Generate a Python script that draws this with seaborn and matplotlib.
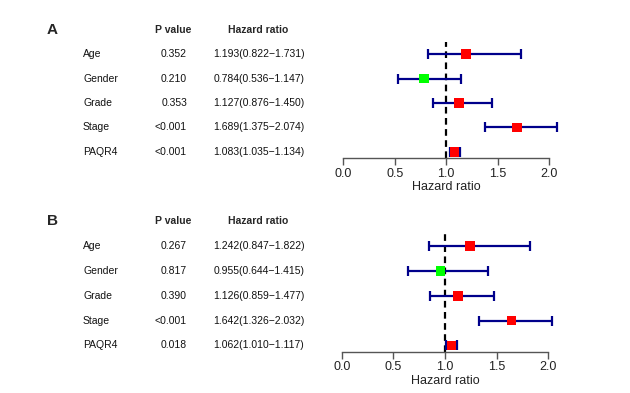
import numpy as np
import pandas as pd
import matplotlib
matplotlib.use("Agg")
import matplotlib.pyplot as plt
import matplotlib.transforms as mtransforms
import seaborn as sns

# ---- data ----
variables = ["Age", "Gender", "Grade", "Stage", "PAQR4"]

pval_A = ["0.352", "0.210", "0.353", "<0.001", "<0.001"]
hr_A = [1.193, 0.784, 1.127, 1.689, 1.083]
lo_A = [0.822, 0.536, 0.876, 1.375, 1.035]
hi_A = [1.731, 1.147, 1.450, 2.074, 1.134]

pval_B = ["0.267", "0.817", "0.390", "<0.001", "0.018"]
hr_B = [1.242, 0.955, 1.126, 1.642, 1.062]
lo_B = [0.847, 0.644, 0.859, 1.326, 1.010]
hi_B = [1.822, 1.415, 1.477, 2.032, 1.117]

xticks = [0.0, 0.5, 1.0, 1.5, 2.0]
xtick_labels = ["0.0", "0.5", "1.0", "1.5", "2.0"]

sns.set_style("white")
plt.rcParams["font.family"] = ["Liberation Sans", "DejaVu Sans"]

W, H = 630, 393
fig = plt.figure(figsize=(W / 100, H / 100), dpi=100)

BLUE = "#00008B"
palette = {"up": "#FF0000", "down": "#00FF00"}


def px_axes(left, top, width, height):
    return fig.add_axes([left / W, (H - top - height) / H, width / W, height / H])


def panel(ax, letter, pvals, hr, lo, hi):
    df = pd.DataFrame({
        "var": variables, "p": pvals, "hr": hr, "lo": lo, "hi": hi,
        "row": np.arange(len(variables)),
    })
    df["dir"] = np.where(df["hr"] < 1, "down", "up")

    ax.set_xlim(0, 2)
    ax.set_ylim(4.25, -0.5)

    ax.axvline(1.0, color="black", lw=1.6, ls=(0, (3, 2)), zorder=2)

    eb = ax.errorbar(df["hr"], df["row"],
                     xerr=[df["hr"] - df["lo"], df["hi"] - df["hr"]],
                     fmt="none", ecolor=BLUE, elinewidth=1.6, capsize=3.6,
                     capthick=1.6, zorder=3)
    for art in eb.lines[1] + eb.lines[2]:
        art.set_clip_on(False)
    for art in eb.lines[2]:
        art.set_clip_on(False)

    sns.scatterplot(data=df, x="hr", y="row", hue="dir", palette=palette,
                    marker="s", s=48, linewidth=0, legend=False, ax=ax,
                    zorder=4, clip_on=False)

    for s in ["top", "right", "left"]:
        ax.spines[s].set_visible(False)
    ax.spines["bottom"].set_color("#555555")
    ax.spines["bottom"].set_linewidth(1.0)
    ax.set_yticks([])
    ax.set_xticks(xticks)
    ax.set_xticklabels(xtick_labels, fontsize=9, color="#222222")
    ax.tick_params(axis="x", direction="out", length=5, width=1.0,
                   color="#555555", pad=2, bottom=True)
    ax.set_xlabel("Hazard ratio", fontsize=9, color="#222222", labelpad=1)
    ax.set_ylabel("")

    tr = mtransforms.blended_transform_factory(fig.transFigure, ax.transData)
    fs = 7.5
    ax.text(47 / W, -1.0, letter, transform=tr, fontsize=11, fontweight="bold",
            ha="left", va="center")
    ax.text(173.5 / W, -1.0, "P value", transform=tr, fontsize=fs,
            fontweight="bold", ha="center", va="center")
    ax.text(258.5 / W, -1.0, "Hazard ratio", transform=tr, fontsize=fs,
            fontweight="bold", ha="center", va="center")
    for _, r in df.iterrows():
        ax.text(83 / W, r["row"], r["var"], transform=tr, fontsize=fs,
                ha="left", va="center", color="#111111")
        ax.text(187 / W, r["row"], r["p"], transform=tr, fontsize=fs,
                ha="right", va="center", color="#111111")
        txt = f"{r['hr']:.3f}({r['lo']:.3f}\u2212{r['hi']:.3f})"
        ax.text(259 / W, r["row"], txt, transform=tr, fontsize=fs,
                ha="center", va="center", color="#111111")


axA = px_axes(343.3, 42.0, 205.7, 116.0)
panel(axA, "A", pval_A, hr_A, lo_A, hi_A)

axB = px_axes(341.7, 233.5, 206.6, 118.2)
panel(axB, "B", pval_B, hr_B, lo_B, hi_B)

fig.savefig("out.png", dpi=100)
